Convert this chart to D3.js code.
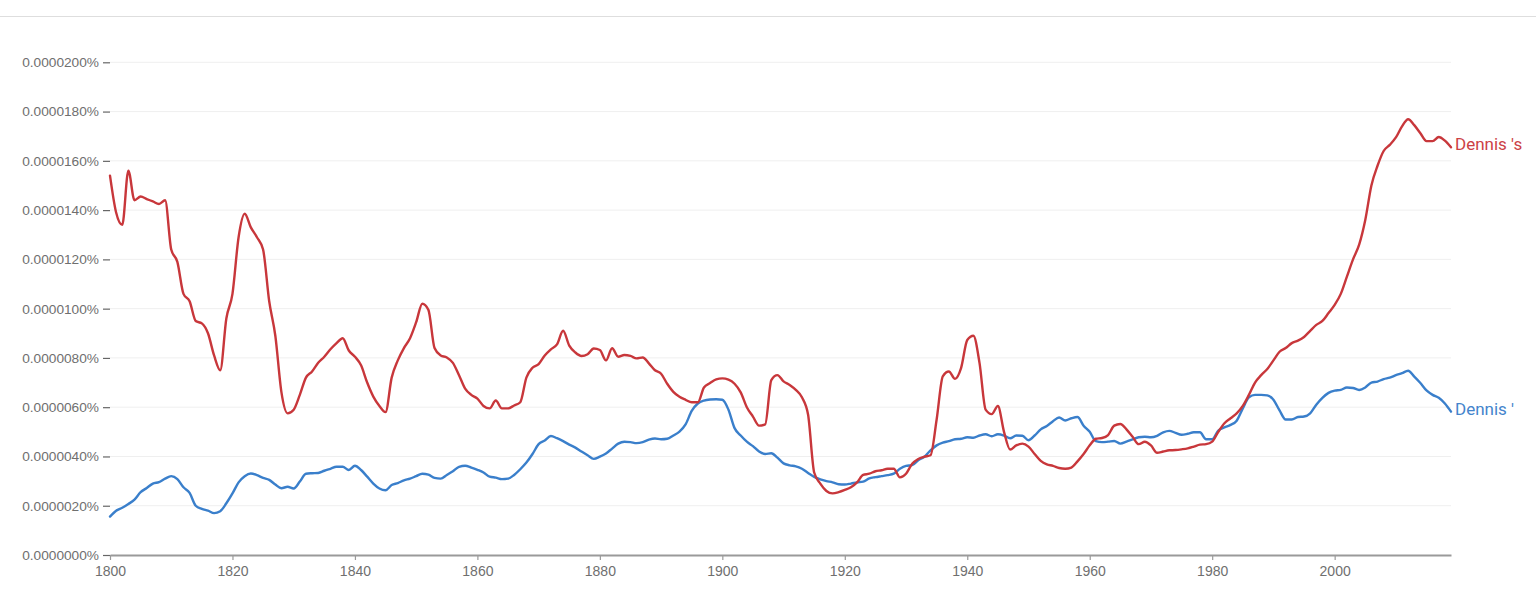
<!DOCTYPE html>
<html>
<head>
<meta charset="utf-8">
<script src="https://cdn.jsdelivr.net/npm/d3@7/dist/d3.min.js"></script>
<style>
  html, body { margin: 0; padding: 0; background: #fff; }
  svg { display: block; font-family: Roboto, "Noto Sans", Arial, sans-serif; }
</style>
</head>
<body>
<svg id="chart" width="1536" height="591"></svg>
<script>
// ---- data (values in units of 1e-6 percent) ----
const startYear = 1800;
const endYear = 2019;
const seriesNames = ["Dennis 's", "Dennis '"];
const yTickValues = [0, 2, 4, 6, 8, 10, 12, 14, 16, 18, 20];
const xTickValues = [1800, 1820, 1840, 1860, 1880, 1900, 1920, 1940, 1960, 1980, 2000];

const dennisApostropheS = [
  15.4, 13.9, 13.4, 15.6, 14.4, 14.55, 14.45, 14.35, 14.25, 14.4,   // 1800-1809
  12.4, 11.9, 10.6, 10.3, 9.5, 9.4, 9.0, 8.1, 7.5, 9.6,             // 1810-1819
  10.6, 12.9, 13.85, 13.3, 12.9, 12.4, 10.3, 8.9, 6.6, 5.75,        // 1820-1829
  5.9, 6.5, 7.2, 7.45, 7.8, 8.05, 8.35, 8.6, 8.8, 8.3,              // 1830-1839
  8.05, 7.7, 7.0, 6.43, 6.05, 5.8, 7.2, 7.9, 8.4, 8.8,              // 1840-1849
  9.45, 10.2, 9.95, 8.4, 8.1, 8.02, 7.8, 7.3, 6.75, 6.5,            // 1850-1859
  6.35, 6.05, 5.95, 6.27, 5.95, 5.95, 6.07, 6.2, 7.2, 7.6,          // 1860-1869
  7.75, 8.1, 8.35, 8.55, 9.1, 8.5, 8.22, 8.08, 8.15, 8.38,          // 1870-1879
  8.32, 7.9, 8.39, 8.05, 8.12, 8.08, 7.98, 8.02, 7.78, 7.5,         // 1880-1889
  7.36, 6.95, 6.62, 6.42, 6.3, 6.2, 6.2, 6.8, 6.98, 7.13,           // 1890-1899
  7.17, 7.12, 6.95, 6.6, 6.0, 5.62, 5.25, 5.3, 7.1, 7.3,            // 1900-1909
  7.05, 6.9, 6.7, 6.4, 5.7, 3.35, 2.9, 2.6, 2.5, 2.55,              // 1910-1919
  2.64, 2.75, 2.95, 3.25, 3.3, 3.4, 3.44, 3.5, 3.5, 3.15,           // 1920-1929
  3.3, 3.7, 3.9, 3.99, 4.05, 5.5, 7.25, 7.45, 7.15, 7.6,            // 1930-1939
  8.73, 8.9, 7.8, 5.9, 5.72, 6.05, 5.0, 4.28, 4.45, 4.52,           // 1940-1949
  4.4, 4.1, 3.82, 3.68, 3.62, 3.53, 3.5, 3.55, 3.8, 4.1,            // 1950-1959
  4.45, 4.72, 4.75, 4.87, 5.25, 5.32, 5.1, 4.8, 4.5, 4.6,           // 1960-1969
  4.45, 4.15, 4.2, 4.25, 4.26, 4.29, 4.33, 4.4, 4.48, 4.5,          // 1970-1979
  4.6, 5.0, 5.35, 5.55, 5.75, 6.05, 6.5, 7.0, 7.3, 7.55,            // 1980-1989
  7.9, 8.25, 8.4, 8.6, 8.7, 8.85, 9.1, 9.34, 9.5, 9.82,             // 1990-1999
  10.15, 10.6, 11.3, 12.0, 12.6, 13.6, 15.0, 15.8, 16.4, 16.65,     // 2000-2009
  16.95, 17.4, 17.69, 17.45, 17.12, 16.8, 16.8, 16.97, 16.82, 16.55 // 2010-2019
];

const dennisApostrophe = [
  1.56, 1.8, 1.92, 2.07, 2.25, 2.55, 2.72, 2.9, 2.96, 3.1,          // 1800-1809
  3.2, 3.08, 2.75, 2.52, 2.0, 1.87, 1.8, 1.7, 1.78, 2.1,            // 1810-1819
  2.5, 2.95, 3.2, 3.31, 3.24, 3.13, 3.05, 2.86, 2.71, 2.77,         // 1820-1829
  2.7, 2.98, 3.3, 3.32, 3.33, 3.42, 3.5, 3.58, 3.58, 3.45,          // 1830-1839
  3.62, 3.45, 3.18, 2.9, 2.7, 2.63, 2.84, 2.92, 3.03, 3.1,          // 1840-1849
  3.2, 3.3, 3.26, 3.13, 3.1, 3.25, 3.4, 3.58, 3.62, 3.55,           // 1850-1859
  3.46, 3.35, 3.18, 3.14, 3.08, 3.1, 3.25, 3.48, 3.75, 4.1,         // 1860-1869
  4.5, 4.65, 4.83, 4.74, 4.62, 4.48, 4.36, 4.2, 4.05, 3.9,          // 1870-1879
  3.99, 4.12, 4.32, 4.52, 4.6, 4.58, 4.54, 4.58, 4.68, 4.73,        // 1880-1889
  4.7, 4.72, 4.85, 5.01, 5.3, 5.85, 6.15, 6.27, 6.31, 6.32,         // 1890-1899
  6.3, 5.9, 5.15, 4.85, 4.6, 4.42, 4.2, 4.1, 4.13, 3.95,            // 1900-1909
  3.72, 3.64, 3.6, 3.5, 3.33, 3.17, 3.07, 3.0, 2.95, 2.87,          // 1910-1919
  2.86, 2.9, 2.95, 2.98, 3.11, 3.16, 3.2, 3.24, 3.3, 3.5,           // 1920-1929
  3.62, 3.65, 3.85, 3.99, 4.25, 4.45, 4.56, 4.62, 4.7, 4.72,        // 1930-1939
  4.78, 4.76, 4.85, 4.9, 4.82, 4.9, 4.85, 4.74, 4.85, 4.84,         // 1940-1949
  4.66, 4.85, 5.1, 5.24, 5.43, 5.58, 5.46, 5.55, 5.6, 5.25,         // 1950-1959
  5.0, 4.62, 4.58, 4.6, 4.63, 4.52, 4.6, 4.69, 4.78, 4.8,           // 1960-1969
  4.78, 4.84, 4.98, 5.04, 4.96, 4.88, 4.92, 4.98, 4.98, 4.7,        // 1970-1979
  4.7, 5.05, 5.18, 5.28, 5.45, 5.95, 6.4, 6.5, 6.5, 6.48,           // 1980-1989
  6.3, 5.87, 5.5, 5.5, 5.6, 5.62, 5.75, 6.1, 6.38, 6.58,            // 1990-1999
  6.67, 6.7, 6.8, 6.78, 6.7, 6.8, 7.0, 7.04, 7.14, 7.2,             // 2000-2009
  7.3, 7.38, 7.48, 7.24, 6.98, 6.68, 6.5, 6.38, 6.15, 5.82          // 2010-2019
];

const seriesColors = ["#c8373b", "#3a7fcb"];
const labelColors = ["#cc4145", "#4484cc"];

// ---- layout ----
const svg = d3.select("#chart");
const W = 1536, H = 591;
const plotLeft = 110, plotRight = 1451, plotTop = 62.3, plotBottom = 555;

svg.append("line")
  .attr("x1", 0).attr("x2", W).attr("y1", 16.5).attr("y2", 16.5)
  .attr("stroke", "#dedede").attr("stroke-width", 1);

const years = d3.range(startYear, endYear + 1);
const x = d3.scaleLinear().domain([startYear, endYear]).range([plotLeft, plotRight]);
const y = d3.scaleLinear().domain([0, 20]).range([plotBottom, plotTop]);

// gridlines
svg.append("g")
  .selectAll("line")
  .data(yTickValues.filter(d => d > 0))
  .join("line")
  .attr("x1", plotLeft).attr("x2", plotRight)
  .attr("y1", d => y(d)).attr("y2", d => y(d))
  .attr("stroke", "#efefef").attr("stroke-width", 1);

// y axis
const yAxis = svg.append("g")
  .attr("transform", `translate(${plotLeft},0)`)
  .call(d3.axisLeft(y).tickValues(yTickValues)
    .tickFormat(d => (d * 1e-6).toFixed(7) + "%")
    .tickSize(7).tickPadding(4));
yAxis.select(".domain").remove();
yAxis.selectAll(".tick line").attr("stroke", "#666").attr("stroke-width", 1.2);
yAxis.selectAll(".tick text")
  .attr("fill", "#6f6f6f").style("font-size", "13.7px");

// x axis
const xAxis = svg.append("g")
  .attr("transform", `translate(0,${plotBottom})`)
  .call(d3.axisBottom(x).tickValues(xTickValues).tickFormat(d3.format("d"))
    .tickSize(5).tickPadding(6).tickSizeOuter(0));
xAxis.select(".domain").attr("stroke", "#9a9a9a").attr("stroke-width", 2);
xAxis.selectAll(".tick line").attr("stroke", "#9a9a9a").attr("stroke-width", 1.2);
xAxis.selectAll(".tick text")
  .attr("fill", "#6f6f6f").style("font-size", "14px");

// lines
const series = [dennisApostropheS, dennisApostrophe];
const line = d3.line()
  .x((d, i) => x(years[i]))
  .y(d => y(d))
  .curve(d3.curveMonotoneX);

[1, 0].forEach(k => {
  svg.append("path")
    .datum(series[k])
    .attr("d", line)
    .attr("fill", "none")
    .attr("stroke", seriesColors[k])
    .attr("stroke-width", 2.4)
    .attr("stroke-linejoin", "round")
    .attr("stroke-linecap", "round");
});

// end labels
series.forEach((s, k) => {
  svg.append("text")
    .attr("x", x(endYear) + 4)
    .attr("y", y(s[s.length - 1]))
    .attr("dy", "0.17em")
    .attr("fill", labelColors[k])
    .style("font-size", "17px")
    .text(seriesNames[k]);
});
</script>
</body>
</html>
